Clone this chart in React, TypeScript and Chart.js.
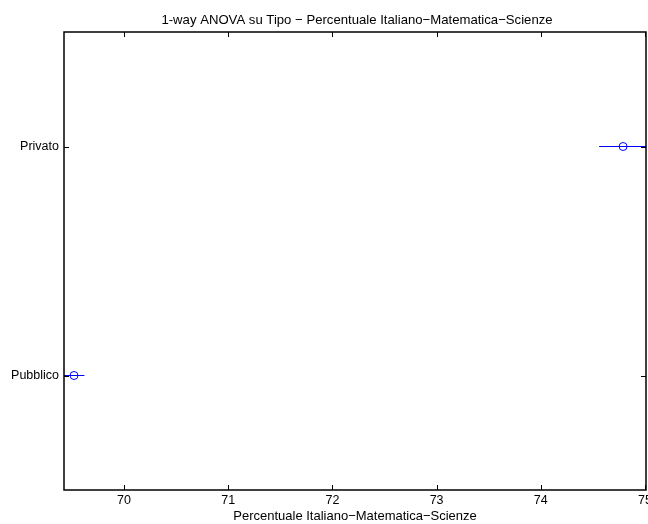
import React, { useEffect, useRef } from "react";
import { Chart, registerables } from "chart.js";

Chart.register(...registerables);

const groups = ["Privato", "Pubblico"];
const means = [74.79, 69.52];
const lowers = [74.56, 69.42];
const uppers = [75.02, 69.62];
const xTicks = [70, 71, 72, 73, 74, 75];
const xMin = 69.424;
const xMax = 75.01;
const titleText = "1-way ANOVA su Tipo \u2212 Percentuale Italiano\u2212Matematica\u2212Scienze";
const xLabelText = "Percentuale Italiano\u2212Matematica\u2212Scienze";

const FONT = "Liberation Sans, Arial, Helvetica, sans-serif";
const BLUE = "rgb(0,0,255)";
const CANVAS_W = 662;

export default function App() {
  const ref = useRef<HTMLCanvasElement | null>(null);
  useEffect(() => {
    document.body.style.margin = "0";
    const n = groups.length;
    const yOf = (i: number) => n - i;
    const intervalSets = groups.map((g, i) => ({
      type: "line" as const,
      label: g + " interval",
      data: [
        { x: lowers[i], y: yOf(i) },
        { x: uppers[i], y: yOf(i) },
      ],
      borderColor: BLUE,
      borderWidth: 1,
      pointRadius: 0,
      showLine: true,
      clip: 0,
    }));
    const pointSet = {
      type: "scatter" as const,
      label: "means",
      data: groups.map((g, i) => ({ x: means[i], y: yOf(i) })),
      borderColor: BLUE,
      backgroundColor: "rgba(0,0,0,0)",
      borderWidth: 1,
      pointRadius: 4,
      pointStyle: "circle",
      clip: 10,
    };
    const framePlugin = {
      id: "frame",
      afterDraw(chart: any) {
        const { ctx, chartArea: a, scales } = chart;
        ctx.save();
        ctx.strokeStyle = "#000";
        ctx.lineWidth = 1;
        const tl = 5;
        ctx.beginPath();
        for (const t of xTicks) {
          const x = Math.round(scales.x.getPixelForValue(t)) + 0.5;
          if (x > a.right + 1) continue;
          ctx.moveTo(x, a.bottom);
          ctx.lineTo(x, a.bottom - tl);
          ctx.moveTo(x, a.top);
          ctx.lineTo(x, a.top + tl);
        }
        groups.forEach((g, i) => {
          const y = Math.round(scales.y.getPixelForValue(yOf(i))) + 0.5;
          ctx.moveTo(a.left, y);
          ctx.lineTo(a.left + tl, y);
          ctx.moveTo(a.right, y);
          ctx.lineTo(a.right - tl, y);
        });
        ctx.stroke();
        ctx.lineWidth = 1.5;
        ctx.strokeRect(a.left, a.top, a.right - a.left, a.bottom - a.top);
        ctx.fillStyle = "#000";
        ctx.font = "13.15px " + FONT;
        ctx.textAlign = "center";
        ctx.textBaseline = "alphabetic";
        const cx = (a.left + a.right) / 2;
        ctx.fillText(titleText, cx + 2, 24);
        ctx.font = "13px " + FONT;
        ctx.fillText(xLabelText, cx, 520);
        ctx.restore();
      },
    };
    const chart = new Chart(ref.current as HTMLCanvasElement, {
      type: "scatter",
      data: { datasets: [...intervalSets, pointSet] as any },
      options: {
        animation: false,
        responsive: false,
        maintainAspectRatio: false,
        layout: { padding: { top: 32, right: CANVAS_W - 646, left: 0, bottom: 0 } },
        plugins: { legend: { display: false }, tooltip: { enabled: false }, title: { display: false } },
        scales: {
          x: {
            type: "linear",
            min: xMin,
            max: xMax,
            afterBuildTicks: (s: any) => {
              s.ticks = xTicks.map((v) => ({ value: v }));
            },
            afterFit: (s: any) => {
              s.height = 34;
            },
            grid: { display: false, drawTicks: false },
            border: { display: false },
            ticks: {
              padding: 3,
              color: "#000",
              font: { family: FONT, size: 12.5 },
              callback: (v: any) => String(v),
              maxRotation: 0,
              autoSkip: false,
            },
          },
          y: {
            type: "linear",
            min: 0.5,
            max: groups.length + 0.5,
            afterBuildTicks: (s: any) => {
              s.ticks = groups.map((g, i) => ({ value: yOf(i) }));
            },
            afterFit: (s: any) => {
              s.width = 64;
            },
            grid: { display: false, drawTicks: false },
            border: { display: false },
            ticks: {
              padding: 5,
              color: "#000",
              font: { family: FONT, size: 12.5 },
              callback: (v: any) => groups[n - Math.round(Number(v))],
              autoSkip: false,
            },
          },
        },
      },
      plugins: [framePlugin],
    } as any);
    return () => chart.destroy();
  }, []);
  return (
    <div style={{ position: "absolute", left: 0, top: 0, width: 648, height: 524, overflow: "hidden", background: "#fff" }}>
      <canvas ref={ref} width={CANVAS_W} height={524} style={{ display: "block", width: CANVAS_W, height: 524 }} />
    </div>
  );
}
